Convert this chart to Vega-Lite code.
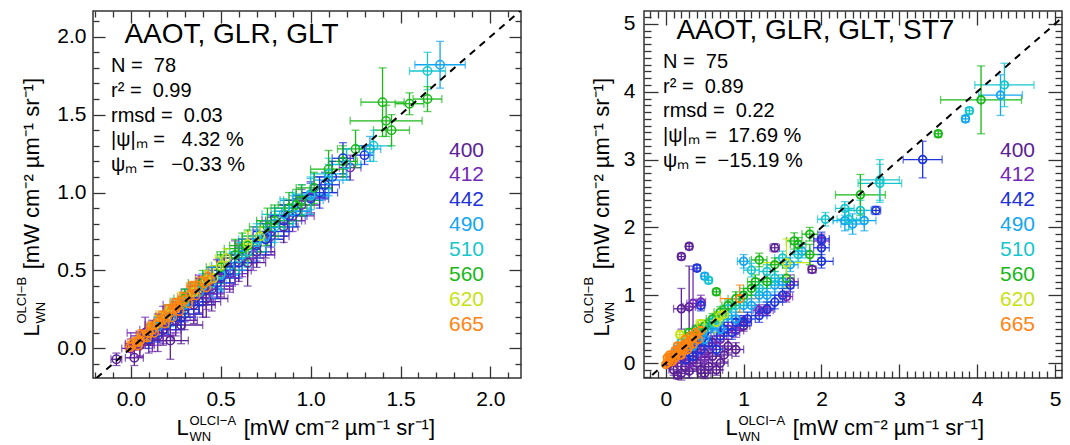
{
  "$schema": "https://vega.github.io/schema/vega-lite/v6.json",
  "padding": {"left": 14, "top": 5, "right": 5, "bottom": 5},
  "config": {"view": {"stroke": "#333", "strokeWidth": 1.5}, "font": "Liberation Sans"},
  "spacing": 123,
  "bounds": "flush",
  "resolve": {"legend": {"color": "independent"}},
  "datasets": {
    "L": [
      {"b":"400","x":-0.08,"y":-0.07,"ex":0.03,"ey":0.04},{"b":"400","x":0.02,"y":-0.06,"ex":0.05,"ey":0.05},{"b":"400","x":0.05,"y":0.02,"ex":0.08,"ey":0.07},{"b":"400","x":0.1,"y":0.05,"ex":0.1,"ey":0.08},{"b":"400","x":0.15,"y":0.08,"ex":0.08,"ey":0.1},{"b":"400","x":0.22,"y":0.05,"ex":0.1,"ey":0.12},{"b":"400","x":0.25,"y":0.18,"ex":0.12,"ey":0.1},{"b":"400","x":0.3,"y":0.22,"ex":0.1,"ey":0.1},{"b":"400","x":0.35,"y":0.28,"ex":0.12,"ey":0.12},{"b":"400","x":0.4,"y":0.3,"ex":0.1,"ey":0.1},{"b":"400","x":0.45,"y":0.38,"ex":0.12,"ey":0.14},{"b":"400","x":0.5,"y":0.45,"ex":0.1,"ey":0.12},{"b":"400","x":0.55,"y":0.5,"ex":0.12,"ey":0.1},{"b":"400","x":0.6,"y":0.55,"ex":0.1,"ey":0.12},{"b":"400","x":0.7,"y":0.62,"ex":0.1,"ey":0.1},{"b":"400","x":0.75,"y":0.7,"ex":0.1,"ey":0.12},{"b":"400","x":0.85,"y":0.78,"ex":0.08,"ey":0.1},{"b":"400","x":0.18,"y":0.12,"ex":0.1,"ey":0.1},{"b":"400","x":0.28,"y":0.15,"ex":0.12,"ey":0.12},{"b":"400","x":0.42,"y":0.32,"ex":0.12,"ey":0.12},{"b":"400","x":0.65,"y":0.55,"ex":0.1,"ey":0.15},
      {"b":"412","x":0.0,"y":0.0,"ex":0.05,"ey":0.06},{"b":"412","x":0.05,"y":0.03,"ex":0.08,"ey":0.08},{"b":"412","x":0.08,"y":0.1,"ex":0.1,"ey":0.1},{"b":"412","x":0.12,"y":0.08,"ex":0.12,"ey":0.1},{"b":"412","x":0.18,"y":0.15,"ex":0.1,"ey":0.12},{"b":"412","x":0.25,"y":0.2,"ex":0.1,"ey":0.1},{"b":"412","x":0.3,"y":0.28,"ex":0.12,"ey":0.1},{"b":"412","x":0.38,"y":0.35,"ex":0.1,"ey":0.12},{"b":"412","x":0.42,"y":0.35,"ex":0.1,"ey":0.1},{"b":"412","x":0.48,"y":0.45,"ex":0.12,"ey":0.12},{"b":"412","x":0.52,"y":0.48,"ex":0.1,"ey":0.1},{"b":"412","x":0.58,"y":0.55,"ex":0.1,"ey":0.14},{"b":"412","x":0.62,"y":0.58,"ex":0.12,"ey":0.12},{"b":"412","x":0.7,"y":0.68,"ex":0.1,"ey":0.1},{"b":"412","x":0.78,"y":0.72,"ex":0.1,"ey":0.12},{"b":"412","x":0.85,"y":0.82,"ex":0.12,"ey":0.1},{"b":"412","x":0.95,"y":0.92,"ex":0.1,"ey":0.1},{"b":"412","x":1.0,"y":0.97,"ex":0.08,"ey":0.1},{"b":"412","x":1.22,"y":1.16,"ex":0.06,"ey":0.08},{"b":"412","x":0.15,"y":0.12,"ex":0.1,"ey":0.1},{"b":"412","x":0.35,"y":0.3,"ex":0.12,"ey":0.12},{"b":"412","x":0.45,"y":0.4,"ex":0.12,"ey":0.1},{"b":"412","x":0.55,"y":0.48,"ex":0.1,"ey":0.12},{"b":"412","x":0.68,"y":0.6,"ex":0.12,"ey":0.1},{"b":"412","x":0.9,"y":0.85,"ex":0.12,"ey":0.1},
      {"b":"442","x":0.1,"y":0.06,"ex":0.06,"ey":0.06},{"b":"442","x":0.15,"y":0.1,"ex":0.06,"ey":0.06},{"b":"442","x":0.2,"y":0.15,"ex":0.08,"ey":0.06},{"b":"442","x":0.25,"y":0.2,"ex":0.08,"ey":0.08},{"b":"442","x":0.3,"y":0.25,"ex":0.08,"ey":0.08},{"b":"442","x":0.35,"y":0.3,"ex":0.08,"ey":0.08},{"b":"442","x":0.42,"y":0.38,"ex":0.08,"ey":0.1},{"b":"442","x":0.5,"y":0.46,"ex":0.08,"ey":0.1},{"b":"442","x":0.55,"y":0.5,"ex":0.1,"ey":0.08},{"b":"442","x":0.62,"y":0.6,"ex":0.1,"ey":0.1},{"b":"442","x":0.7,"y":0.66,"ex":0.08,"ey":0.1},{"b":"442","x":0.78,"y":0.75,"ex":0.1,"ey":0.1},{"b":"442","x":0.85,"y":0.82,"ex":0.1,"ey":0.1},{"b":"442","x":0.92,"y":0.88,"ex":0.08,"ey":0.1},{"b":"442","x":1.0,"y":0.96,"ex":0.1,"ey":0.1},{"b":"442","x":1.08,"y":1.05,"ex":0.08,"ey":0.08},{"b":"442","x":1.18,"y":1.22,"ex":0.06,"ey":0.1},{"b":"442","x":1.3,"y":1.24,"ex":0.05,"ey":0.06},{"b":"442","x":0.28,"y":0.2,"ex":0.08,"ey":0.08},{"b":"442","x":0.38,"y":0.3,"ex":0.08,"ey":0.08},{"b":"442","x":0.48,"y":0.42,"ex":0.1,"ey":0.1},{"b":"442","x":0.6,"y":0.55,"ex":0.1,"ey":0.1},{"b":"442","x":0.75,"y":0.7,"ex":0.1,"ey":0.1},{"b":"442","x":0.88,"y":0.85,"ex":0.1,"ey":0.1},{"b":"442","x":1.05,"y":1.0,"ex":0.1,"ey":0.1},{"b":"442","x":1.12,"y":1.1,"ex":0.1,"ey":0.1},
      {"b":"490","x":0.15,"y":0.14,"ex":0.06,"ey":0.06},{"b":"490","x":0.22,"y":0.2,"ex":0.06,"ey":0.06},{"b":"490","x":0.3,"y":0.28,"ex":0.08,"ey":0.08},{"b":"490","x":0.38,"y":0.36,"ex":0.08,"ey":0.08},{"b":"490","x":0.45,"y":0.42,"ex":0.08,"ey":0.1},{"b":"490","x":0.55,"y":0.53,"ex":0.1,"ey":0.08},{"b":"490","x":0.62,"y":0.6,"ex":0.1,"ey":0.1},{"b":"490","x":0.7,"y":0.68,"ex":0.1,"ey":0.1},{"b":"490","x":0.8,"y":0.8,"ex":0.1,"ey":0.1},{"b":"490","x":0.9,"y":0.88,"ex":0.1,"ey":0.1},{"b":"490","x":1.0,"y":0.99,"ex":0.1,"ey":0.1},{"b":"490","x":1.1,"y":1.08,"ex":0.08,"ey":0.1},{"b":"490","x":1.2,"y":1.18,"ex":0.08,"ey":0.1},{"b":"490","x":1.33,"y":1.28,"ex":0.06,"ey":0.08},{"b":"490","x":1.72,"y":1.82,"ex":0.14,"ey":0.15},{"b":"490","x":0.5,"y":0.47,"ex":0.1,"ey":0.1},{"b":"490","x":0.75,"y":0.72,"ex":0.1,"ey":0.1},{"b":"490","x":0.95,"y":0.95,"ex":0.12,"ey":0.1},
      {"b":"510","x":0.2,"y":0.2,"ex":0.06,"ey":0.06},{"b":"510","x":0.3,"y":0.3,"ex":0.08,"ey":0.08},{"b":"510","x":0.4,"y":0.4,"ex":0.08,"ey":0.08},{"b":"510","x":0.5,"y":0.48,"ex":0.1,"ey":0.1},{"b":"510","x":0.6,"y":0.58,"ex":0.1,"ey":0.1},{"b":"510","x":0.7,"y":0.7,"ex":0.1,"ey":0.1},{"b":"510","x":0.8,"y":0.78,"ex":0.1,"ey":0.1},{"b":"510","x":0.9,"y":0.9,"ex":0.1,"ey":0.1},{"b":"510","x":1.0,"y":0.98,"ex":0.1,"ey":0.12},{"b":"510","x":1.1,"y":1.12,"ex":0.1,"ey":0.1},{"b":"510","x":1.2,"y":1.18,"ex":0.08,"ey":0.1},{"b":"510","x":1.35,"y":1.3,"ex":0.1,"ey":0.1},{"b":"510","x":1.65,"y":1.78,"ex":0.1,"ey":0.12},{"b":"510","x":0.65,"y":0.62,"ex":0.1,"ey":0.1},{"b":"510","x":0.85,"y":0.86,"ex":0.12,"ey":0.1},
      {"b":"560","x":0.3,"y":0.32,"ex":0.06,"ey":0.06},{"b":"560","x":0.4,"y":0.42,"ex":0.08,"ey":0.08},{"b":"560","x":0.5,"y":0.52,"ex":0.08,"ey":0.1},{"b":"560","x":0.58,"y":0.6,"ex":0.1,"ey":0.1},{"b":"560","x":0.65,"y":0.66,"ex":0.1,"ey":0.1},{"b":"560","x":0.72,"y":0.72,"ex":0.1,"ey":0.1},{"b":"560","x":0.8,"y":0.82,"ex":0.1,"ey":0.1},{"b":"560","x":0.88,"y":0.9,"ex":0.1,"ey":0.1},{"b":"560","x":0.95,"y":0.95,"ex":0.1,"ey":0.1},{"b":"560","x":1.02,"y":1.03,"ex":0.1,"ey":0.1},{"b":"560","x":1.1,"y":1.15,"ex":0.1,"ey":0.12},{"b":"560","x":1.18,"y":1.2,"ex":0.08,"ey":0.1},{"b":"560","x":1.25,"y":1.28,"ex":0.1,"ey":0.12},{"b":"560","x":1.4,"y":1.58,"ex":0.12,"ey":0.22},{"b":"560","x":1.55,"y":1.57,"ex":0.08,"ey":0.07},{"b":"560","x":1.65,"y":1.6,"ex":0.08,"ey":0.08},{"b":"560","x":1.42,"y":1.46,"ex":0.2,"ey":0.1},{"b":"560","x":1.45,"y":1.4,"ex":0.1,"ey":0.1},{"b":"560","x":0.62,"y":0.64,"ex":0.1,"ey":0.1},{"b":"560","x":0.76,"y":0.78,"ex":0.1,"ey":0.12},{"b":"560","x":0.92,"y":0.92,"ex":0.1,"ey":0.1},
      {"b":"620","x":0.05,"y":0.05,"ex":0.04,"ey":0.04},{"b":"620","x":0.1,"y":0.1,"ex":0.05,"ey":0.05},{"b":"620","x":0.15,"y":0.16,"ex":0.05,"ey":0.05},{"b":"620","x":0.2,"y":0.22,"ex":0.06,"ey":0.06},{"b":"620","x":0.28,"y":0.3,"ex":0.06,"ey":0.06},{"b":"620","x":0.35,"y":0.36,"ex":0.06,"ey":0.06},{"b":"620","x":0.42,"y":0.44,"ex":0.06,"ey":0.06},{"b":"620","x":0.46,"y":0.45,"ex":0.05,"ey":0.06},{"b":"620","x":0.5,"y":0.53,"ex":0.06,"ey":0.06},{"b":"620","x":0.53,"y":0.58,"ex":0.06,"ey":0.06},{"b":"620","x":0.65,"y":0.67,"ex":0.06,"ey":0.08},{"b":"620","x":0.72,"y":0.72,"ex":0.05,"ey":0.06},
      {"b":"665","x":0.0,"y":0.01,"ex":0.03,"ey":0.03},{"b":"665","x":0.03,"y":0.04,"ex":0.03,"ey":0.03},{"b":"665","x":0.05,"y":0.05,"ex":0.03,"ey":0.03},{"b":"665","x":0.07,"y":0.08,"ex":0.03,"ey":0.03},{"b":"665","x":0.1,"y":0.1,"ex":0.03,"ey":0.03},{"b":"665","x":0.12,"y":0.12,"ex":0.03,"ey":0.03},{"b":"665","x":0.14,"y":0.15,"ex":0.03,"ey":0.03},{"b":"665","x":0.16,"y":0.17,"ex":0.03,"ey":0.03},{"b":"665","x":0.18,"y":0.19,"ex":0.03,"ey":0.03},{"b":"665","x":0.2,"y":0.2,"ex":0.03,"ey":0.03},{"b":"665","x":0.22,"y":0.23,"ex":0.03,"ey":0.03},{"b":"665","x":0.24,"y":0.25,"ex":0.03,"ey":0.03},{"b":"665","x":0.26,"y":0.27,"ex":0.03,"ey":0.03},{"b":"665","x":0.28,"y":0.3,"ex":0.03,"ey":0.03},{"b":"665","x":0.3,"y":0.31,"ex":0.03,"ey":0.03},{"b":"665","x":0.33,"y":0.34,"ex":0.03,"ey":0.03},{"b":"665","x":0.35,"y":0.38,"ex":0.03,"ey":0.03},{"b":"665","x":0.38,"y":0.4,"ex":0.03,"ey":0.03},{"b":"665","x":0.41,"y":0.42,"ex":0.03,"ey":0.03},{"b":"665","x":0.44,"y":0.44,"ex":0.03,"ey":0.03},{"b":"665","x":0.01,"y":0.03,"ex":0.03,"ey":0.03},{"b":"665","x":0.04,"y":0.02,"ex":0.03,"ey":0.03},{"b":"665","x":0.06,"y":0.09,"ex":0.03,"ey":0.03},{"b":"665","x":0.09,"y":0.07,"ex":0.03,"ey":0.03},{"b":"665","x":0.11,"y":0.14,"ex":0.03,"ey":0.03},{"b":"665","x":0.13,"y":0.1,"ex":0.03,"ey":0.03},{"b":"665","x":0.17,"y":0.21,"ex":0.03,"ey":0.03},{"b":"665","x":0.19,"y":0.16,"ex":0.03,"ey":0.03},{"b":"665","x":0.21,"y":0.25,"ex":0.03,"ey":0.03},{"b":"665","x":0.23,"y":0.2,"ex":0.03,"ey":0.03},{"b":"665","x":0.25,"y":0.29,"ex":0.03,"ey":0.03},{"b":"665","x":0.27,"y":0.24,"ex":0.03,"ey":0.03},{"b":"665","x":0.29,"y":0.33,"ex":0.03,"ey":0.03},{"b":"665","x":0.32,"y":0.29,"ex":0.03,"ey":0.03},{"b":"665","x":0.34,"y":0.4,"ex":0.03,"ey":0.03},{"b":"665","x":0.36,"y":0.34,"ex":0.03,"ey":0.03},{"b":"665","x":0.39,"y":0.43,"ex":0.03,"ey":0.03},{"b":"665","x":0.42,"y":0.39,"ex":0.03,"ey":0.03},{"b":"665","x":0.43,"y":0.46,"ex":0.03,"ey":0.03}
    ],
    "R": [
      {"b":"400","x":0.05,"y":0.0,"ex":0.05,"ey":0.08},{"b":"400","x":0.1,"y":-0.1,"ex":0.06,"ey":0.08},{"b":"400","x":0.15,"y":0.05,"ex":0.08,"ey":0.1},{"b":"400","x":0.2,"y":-0.15,"ex":0.1,"ey":0.1},{"b":"400","x":0.25,"y":0.1,"ex":0.1,"ey":0.1},{"b":"400","x":0.3,"y":-0.12,"ex":0.1,"ey":0.1},{"b":"400","x":0.35,"y":0.05,"ex":0.1,"ey":0.1},{"b":"400","x":0.45,"y":-0.1,"ex":0.1,"ey":0.1},{"b":"400","x":0.5,"y":0.15,"ex":0.1,"ey":0.1},{"b":"400","x":0.55,"y":-0.05,"ex":0.1,"ey":0.1},{"b":"400","x":0.6,"y":0.1,"ex":0.1,"ey":0.1},{"b":"400","x":0.7,"y":0.0,"ex":0.1,"ey":0.1},{"b":"400","x":0.2,"y":1.57,"ex":0.04,"ey":0.04},{"b":"400","x":0.3,"y":1.72,"ex":0.04,"ey":0.04},{"b":"400","x":0.2,"y":0.8,"ex":0.1,"ey":0.3},{"b":"400","x":0.3,"y":0.83,"ex":0.08,"ey":0.6},{"b":"400","x":1.4,"y":1.7,"ex":0.06,"ey":0.06},{"b":"400","x":1.88,"y":1.38,"ex":0.05,"ey":0.05},{"b":"400","x":1.0,"y":0.55,"ex":0.08,"ey":0.08},{"b":"400","x":0.8,"y":0.25,"ex":0.1,"ey":0.1},{"b":"400","x":0.15,"y":-0.18,"ex":0.05,"ey":0.05},{"b":"400","x":0.25,"y":-0.05,"ex":0.06,"ey":0.06},{"b":"400","x":0.4,"y":0.0,"ex":0.08,"ey":0.08},{"b":"400","x":0.5,"y":-0.15,"ex":0.08,"ey":0.08},{"b":"400","x":0.65,"y":-0.1,"ex":0.08,"ey":0.08},{"b":"400","x":0.75,"y":0.12,"ex":0.1,"ey":0.1},{"b":"400","x":0.4,"y":0.25,"ex":0.08,"ey":0.08},{"b":"400","x":0.6,"y":0.3,"ex":0.1,"ey":0.1},{"b":"400","x":0.9,"y":0.2,"ex":0.1,"ey":0.1},
      {"b":"412","x":0.1,"y":0.02,"ex":0.05,"ey":0.06},{"b":"412","x":0.2,"y":0.1,"ex":0.06,"ey":0.08},{"b":"412","x":0.3,"y":0.0,"ex":0.08,"ey":0.1},{"b":"412","x":0.4,"y":0.2,"ex":0.1,"ey":0.1},{"b":"412","x":0.5,"y":0.08,"ex":0.08,"ey":0.1},{"b":"412","x":0.6,"y":0.25,"ex":0.1,"ey":0.1},{"b":"412","x":0.7,"y":0.35,"ex":0.1,"ey":0.1},{"b":"412","x":0.8,"y":0.5,"ex":0.1,"ey":0.1},{"b":"412","x":0.9,"y":0.48,"ex":0.1,"ey":0.1},{"b":"412","x":1.0,"y":0.62,"ex":0.1,"ey":0.08},{"b":"412","x":1.2,"y":0.78,"ex":0.08,"ey":0.08},{"b":"412","x":1.3,"y":0.78,"ex":0.08,"ey":0.08},{"b":"412","x":1.55,"y":0.98,"ex":0.08,"ey":0.08},{"b":"412","x":2.0,"y":1.8,"ex":0.1,"ey":0.1},{"b":"412","x":0.35,"y":0.88,"ex":0.08,"ey":0.5},{"b":"412","x":0.45,"y":0.9,"ex":0.06,"ey":0.1},{"b":"412","x":1.6,"y":1.2,"ex":0.1,"ey":0.1},
      {"b":"442","x":0.4,"y":1.4,"ex":0.04,"ey":0.04},{"b":"442","x":0.1,"y":0.1,"ex":0.05,"ey":0.06},{"b":"442","x":0.2,"y":0.2,"ex":0.06,"ey":0.06},{"b":"442","x":0.3,"y":0.15,"ex":0.08,"ey":0.08},{"b":"442","x":0.4,"y":0.3,"ex":0.08,"ey":0.08},{"b":"442","x":0.5,"y":0.45,"ex":0.08,"ey":0.08},{"b":"442","x":0.6,"y":0.55,"ex":0.1,"ey":0.1},{"b":"442","x":0.65,"y":0.2,"ex":0.08,"ey":0.08},{"b":"442","x":0.75,"y":0.5,"ex":0.1,"ey":0.1},{"b":"442","x":0.9,"y":0.6,"ex":0.1,"ey":0.1},{"b":"442","x":1.05,"y":0.65,"ex":0.1,"ey":0.1},{"b":"442","x":1.3,"y":0.8,"ex":0.1,"ey":0.1},{"b":"442","x":1.5,"y":1.0,"ex":0.1,"ey":0.1},{"b":"442","x":1.6,"y":1.15,"ex":0.1,"ey":0.1},{"b":"442","x":2.0,"y":1.5,"ex":0.15,"ey":0.1},{"b":"442","x":2.0,"y":1.7,"ex":0.1,"ey":0.15},{"b":"442","x":2.0,"y":1.83,"ex":0.1,"ey":0.1},{"b":"442","x":2.7,"y":2.25,"ex":0.06,"ey":0.06},{"b":"442","x":3.3,"y":3.0,"ex":0.25,"ey":0.27},{"b":"442","x":0.45,"y":0.85,"ex":0.05,"ey":0.08},{"b":"442","x":0.25,"y":0.05,"ex":0.06,"ey":0.06},{"b":"442","x":0.35,"y":0.1,"ex":0.06,"ey":0.06},{"b":"442","x":0.45,"y":0.2,"ex":0.08,"ey":0.08},{"b":"442","x":0.55,"y":0.3,"ex":0.08,"ey":0.08},{"b":"442","x":0.7,"y":0.4,"ex":0.08,"ey":0.08},{"b":"442","x":0.85,"y":0.45,"ex":0.1,"ey":0.1},{"b":"442","x":1.0,"y":0.6,"ex":0.1,"ey":0.1},{"b":"442","x":1.2,"y":0.7,"ex":0.1,"ey":0.1},{"b":"442","x":1.4,"y":0.9,"ex":0.1,"ey":0.1},
      {"b":"490","x":0.5,"y":1.28,"ex":0.04,"ey":0.04},{"b":"490","x":0.15,"y":0.2,"ex":0.05,"ey":0.06},{"b":"490","x":0.3,"y":0.3,"ex":0.06,"ey":0.06},{"b":"490","x":0.45,"y":0.4,"ex":0.08,"ey":0.08},{"b":"490","x":0.6,"y":0.55,"ex":0.08,"ey":0.1},{"b":"490","x":0.8,"y":0.7,"ex":0.1,"ey":0.1},{"b":"490","x":1.0,"y":0.85,"ex":0.1,"ey":0.1},{"b":"490","x":1.2,"y":1.0,"ex":0.1,"ey":0.1},{"b":"490","x":1.4,"y":1.15,"ex":0.1,"ey":0.1},{"b":"490","x":1.6,"y":1.45,"ex":0.1,"ey":0.1},{"b":"490","x":1.75,"y":1.65,"ex":0.1,"ey":0.1},{"b":"490","x":2.3,"y":2.1,"ex":0.15,"ey":0.15},{"b":"490","x":2.4,"y":2.05,"ex":0.15,"ey":0.15},{"b":"490","x":2.55,"y":2.1,"ex":0.15,"ey":0.15},{"b":"490","x":3.85,"y":3.6,"ex":0.04,"ey":0.04},{"b":"490","x":4.3,"y":3.95,"ex":0.28,"ey":0.3},{"b":"490","x":1.0,"y":1.5,"ex":0.08,"ey":0.1},{"b":"490","x":0.35,"y":0.25,"ex":0.06,"ey":0.06},{"b":"490","x":0.5,"y":0.35,"ex":0.08,"ey":0.08},{"b":"490","x":0.7,"y":0.5,"ex":0.08,"ey":0.08},{"b":"490","x":0.9,"y":0.65,"ex":0.1,"ey":0.1},{"b":"490","x":1.1,"y":0.85,"ex":0.1,"ey":0.1},{"b":"490","x":1.3,"y":1.0,"ex":0.1,"ey":0.1},{"b":"490","x":1.5,"y":1.2,"ex":0.1,"ey":0.1},
      {"b":"510","x":0.55,"y":1.22,"ex":0.04,"ey":0.04},{"b":"510","x":0.2,"y":0.3,"ex":0.05,"ey":0.06},{"b":"510","x":0.4,"y":0.45,"ex":0.06,"ey":0.08},{"b":"510","x":0.6,"y":0.6,"ex":0.08,"ey":0.08},{"b":"510","x":0.8,"y":0.8,"ex":0.1,"ey":0.1},{"b":"510","x":1.0,"y":0.95,"ex":0.1,"ey":0.1},{"b":"510","x":1.1,"y":1.37,"ex":0.1,"ey":0.1},{"b":"510","x":1.3,"y":1.35,"ex":0.1,"ey":0.1},{"b":"510","x":1.5,"y":1.55,"ex":0.1,"ey":0.1},{"b":"510","x":2.05,"y":2.12,"ex":0.1,"ey":0.1},{"b":"510","x":2.3,"y":2.28,"ex":0.12,"ey":0.1},{"b":"510","x":2.35,"y":2.12,"ex":0.15,"ey":0.15},{"b":"510","x":2.5,"y":2.25,"ex":0.15,"ey":0.15},{"b":"510","x":2.75,"y":2.65,"ex":0.28,"ey":0.28},{"b":"510","x":2.75,"y":2.7,"ex":0.25,"ey":0.3},{"b":"510","x":3.9,"y":3.72,"ex":0.04,"ey":0.04},{"b":"510","x":4.35,"y":4.1,"ex":0.38,"ey":0.32},{"b":"510","x":1.7,"y":1.6,"ex":0.1,"ey":0.1},{"b":"510","x":0.3,"y":0.35,"ex":0.06,"ey":0.06},{"b":"510","x":0.5,"y":0.5,"ex":0.08,"ey":0.08},{"b":"510","x":0.7,"y":0.65,"ex":0.08,"ey":0.08},{"b":"510","x":0.9,"y":0.85,"ex":0.1,"ey":0.1},{"b":"510","x":1.2,"y":1.1,"ex":0.1,"ey":0.1},{"b":"510","x":1.4,"y":1.25,"ex":0.1,"ey":0.1},
      {"b":"560","x":0.65,"y":1.05,"ex":0.04,"ey":0.04},{"b":"560","x":0.3,"y":0.45,"ex":0.06,"ey":0.06},{"b":"560","x":0.5,"y":0.55,"ex":0.08,"ey":0.08},{"b":"560","x":0.7,"y":0.75,"ex":0.08,"ey":0.08},{"b":"560","x":0.9,"y":0.95,"ex":0.1,"ey":0.1},{"b":"560","x":1.0,"y":1.0,"ex":0.1,"ey":0.1},{"b":"560","x":1.2,"y":1.52,"ex":0.1,"ey":0.1},{"b":"560","x":1.3,"y":1.2,"ex":0.1,"ey":0.1},{"b":"560","x":1.55,"y":1.25,"ex":0.1,"ey":0.15},{"b":"560","x":1.65,"y":1.8,"ex":0.1,"ey":0.12},{"b":"560","x":1.7,"y":1.75,"ex":0.1,"ey":0.1},{"b":"560","x":1.85,"y":1.9,"ex":0.1,"ey":0.1},{"b":"560","x":1.85,"y":1.6,"ex":0.15,"ey":0.15},{"b":"560","x":2.5,"y":2.48,"ex":0.32,"ey":0.3},{"b":"560","x":3.5,"y":3.38,"ex":0.04,"ey":0.04},{"b":"560","x":4.05,"y":3.88,"ex":0.52,"ey":0.5},{"b":"560","x":1.1,"y":1.1,"ex":0.1,"ey":0.1},{"b":"560","x":0.4,"y":0.5,"ex":0.06,"ey":0.06},{"b":"560","x":0.6,"y":0.65,"ex":0.08,"ey":0.08},{"b":"560","x":0.8,"y":0.85,"ex":0.08,"ey":0.08},{"b":"560","x":1.15,"y":1.2,"ex":0.1,"ey":0.1},{"b":"560","x":1.4,"y":1.45,"ex":0.1,"ey":0.1},
      {"b":"620","x":0.18,"y":0.42,"ex":0.04,"ey":0.04},{"b":"620","x":0.3,"y":0.35,"ex":0.05,"ey":0.05},{"b":"620","x":0.45,"y":0.58,"ex":0.06,"ey":0.06},{"b":"620","x":0.65,"y":0.6,"ex":0.08,"ey":0.15},{"b":"620","x":0.7,"y":0.7,"ex":0.06,"ey":0.06},{"b":"620","x":0.75,"y":0.72,"ex":0.06,"ey":0.06},{"b":"620","x":1.55,"y":1.48,"ex":0.3,"ey":0.35},
      {"b":"665","x":0.02,"y":0.0,"ex":0.03,"ey":0.03},{"b":"665","x":0.05,"y":0.05,"ex":0.03,"ey":0.03},{"b":"665","x":0.08,"y":0.1,"ex":0.03,"ey":0.03},{"b":"665","x":0.1,"y":0.12,"ex":0.04,"ey":0.04},{"b":"665","x":0.12,"y":0.18,"ex":0.04,"ey":0.04},{"b":"665","x":0.15,"y":0.15,"ex":0.04,"ey":0.04},{"b":"665","x":0.18,"y":0.22,"ex":0.04,"ey":0.04},{"b":"665","x":0.2,"y":0.2,"ex":0.04,"ey":0.04},{"b":"665","x":0.22,"y":0.26,"ex":0.04,"ey":0.04},{"b":"665","x":0.25,"y":0.28,"ex":0.04,"ey":0.04},{"b":"665","x":0.28,"y":0.3,"ex":0.04,"ey":0.04},{"b":"665","x":0.3,"y":0.32,"ex":0.04,"ey":0.04},{"b":"665","x":0.33,"y":0.35,"ex":0.04,"ey":0.04},{"b":"665","x":0.36,"y":0.38,"ex":0.04,"ey":0.04},{"b":"665","x":0.4,"y":0.42,"ex":0.04,"ey":0.04},{"b":"665","x":0.1,"y":0.05,"ex":0.03,"ey":0.03},{"b":"665","x":0.2,"y":0.12,"ex":0.04,"ey":0.04},{"b":"665","x":0.3,"y":0.25,"ex":0.04,"ey":0.04},{"b":"665","x":0.95,"y":0.95,"ex":0.25,"ey":0.2},{"b":"665","x":0.05,"y":0.12,"ex":0.03,"ey":0.03},{"b":"665","x":0.08,"y":0.02,"ex":0.03,"ey":0.03},{"b":"665","x":0.12,"y":0.08,"ex":0.03,"ey":0.03},{"b":"665","x":0.15,"y":0.25,"ex":0.04,"ey":0.04},{"b":"665","x":0.18,"y":0.12,"ex":0.04,"ey":0.04},{"b":"665","x":0.22,"y":0.18,"ex":0.04,"ey":0.04},{"b":"665","x":0.25,"y":0.35,"ex":0.04,"ey":0.04},{"b":"665","x":0.28,"y":0.2,"ex":0.04,"ey":0.04},{"b":"665","x":0.32,"y":0.4,"ex":0.04,"ey":0.04},{"b":"665","x":0.35,"y":0.28,"ex":0.04,"ey":0.04},{"b":"665","x":0.38,"y":0.45,"ex":0.04,"ey":0.04},{"b":"665","x":0.42,"y":0.35,"ex":0.04,"ey":0.04},{"b":"665","x":0.45,"y":0.48,"ex":0.04,"ey":0.04},{"b":"665","x":0.02,"y":0.08,"ex":0.03,"ey":0.03},{"b":"665","x":0.0,"y":-0.02,"ex":0.03,"ey":0.03}
    ]
  },
  "hconcat": [
    {
      "width": 428, "height": 367,
      "data": {"name": "L"},
      "title": {"text": "\u200b\u00a0\u2009AAOT, GLR, GLT", "subtitle": ["N =\u00a0\u00a078", "r² =\u00a0\u00a00.99", "rmsd =\u00a0\u00a00.03", "|ψ|ₘ =\u00a0\u00a0\u00a04.32 %", "ψₘ =\u00a0\u00a0\u00a0−0.33 %"], "anchor": "start", "frame": "group", "orient": "top", "offset": -165, "dx": 18, "font": "Liberation Sans", "fontSize": 28, "fontWeight": "normal", "color": "black", "subtitleFont": "Liberation Sans", "subtitleFontSize": 20, "subtitleColor": "black", "subtitleLineHeight": 24.8, "subtitlePadding": 7},
      "resolve": {"axis": {"x": "independent", "y": "independent"}},
      "layer": [
        {
          "mark": {"type": "errorbar", "ticks": {"size": 8}, "thickness": 1.3},
          "encoding": {
            "x": {"field": "x", "type": "quantitative", "scale": {"domain": [-0.21, 2.17], "nice": false, "zero": false}, "axis": {"orient": "bottom", "ticks": false, "labels": false, "domain": false, "grid": false, "title": "OLCI−A", "titleFont": "Liberation Sans", "titleFontSize": 13, "titleFontWeight": "normal", "titleColor": "black", "titleAlign": "left", "titleBaseline": "alphabetic", "titleX": 96, "titleY": 46}},
            "xError": {"field": "ex"},
            "y": {"field": "y", "type": "quantitative", "scale": {"domain": [-0.19, 2.165], "nice": false, "zero": false}, "axis": {"orient": "left", "ticks": false, "labels": false, "domain": false, "grid": false, "title": "OLCI−B", "titleFont": "Liberation Sans", "titleFontSize": 13, "titleFontWeight": "normal", "titleColor": "black", "titleAngle": -90, "titleAlign": "left", "titleBaseline": "alphabetic", "titleX": -68, "titleY": 312}},
            "color": {"field": "b", "type": "nominal", "scale": {"domain": ["400","412","442","490","510","560","620","665"], "range": ["#5b2196","#7428b8","#1c34d9","#13a6f2","#16c6cc","#18b818","#c6e212","#ff8410"]}, "legend": {"orient": "none", "legendX": 335, "legendY": 129, "title": null, "labelFontSize": 21, "labelFont": "Liberation Sans", "symbolOpacity": 0, "symbolSize": 0, "symbolStrokeWidth": 0, "rowPadding": 2.9, "labelOffset": 0, "padding": 0, "encode": {"labels": {"update": {"fill": {"scale": "color", "field": "value"}}}}}}
          }
        },
        {
          "mark": {"type": "errorbar", "ticks": {"size": 8}, "thickness": 1.3},
          "encoding": {
            "y": {"field": "y", "type": "quantitative", "scale": {"domain": [-0.19, 2.165], "nice": false, "zero": false}, "axis": {"orient": "left", "ticks": false, "labels": false, "domain": false, "grid": false, "title": "WN", "titleFont": "Liberation Sans", "titleFontSize": 13, "titleFontWeight": "normal", "titleColor": "black", "titleAngle": -90, "titleAlign": "left", "titleBaseline": "alphabetic", "titleX": -49, "titleY": 312}},
            "yError": {"field": "ey"},
            "x": {"field": "x", "type": "quantitative", "scale": {"domain": [-0.21, 2.17], "nice": false, "zero": false}, "axis": {"orient": "bottom", "ticks": false, "labels": false, "domain": false, "grid": false, "title": "WN", "titleFont": "Liberation Sans", "titleFontSize": 13, "titleFontWeight": "normal", "titleColor": "black", "titleAlign": "left", "titleBaseline": "alphabetic", "titleX": 96, "titleY": 62}},
            "color": {"field": "b", "type": "nominal"}
          }
        },
        {
          "mark": {"type": "point", "shape": "circle", "filled": false, "size": 70, "strokeWidth": 1.5, "opacity": 1},
          "encoding": {
            "x": {"field": "x", "type": "quantitative", "scale": {"domain": [-0.21, 2.17], "nice": false, "zero": false}, "axis": {"orient": "top", "values": [-0.2,-0.1,0,0.1,0.2,0.3,0.4,0.5,0.6,0.7,0.8,0.9,1,1.1,1.2,1.3,1.4,1.5,1.6,1.7,1.8,1.9,2,2.1], "tickSize": {"condition": {"test": "abs(datum.value*2-round(datum.value*2))<0.001", "value": -12}, "value": -6}, "tickColor": "#333", "tickWidth": 1.3, "labels": false, "domain": false, "grid": false, "title": null}},
            "y": {"field": "y", "type": "quantitative", "scale": {"domain": [-0.19, 2.165], "nice": false, "zero": false}, "axis": {"orient": "right", "values": [-0.1,0,0.1,0.2,0.3,0.4,0.5,0.6,0.7,0.8,0.9,1,1.1,1.2,1.3,1.4,1.5,1.6,1.7,1.8,1.9,2,2.1], "tickSize": {"condition": {"test": "abs(datum.value*2-round(datum.value*2))<0.001", "value": -12}, "value": -6}, "tickColor": "#333", "tickWidth": 1.3, "labels": false, "domain": false, "grid": false, "title": null}},
            "color": {"field": "b", "type": "nominal"}
          }
        },
        {
          "data": {"values": [{"v": -0.3}, {"v": 2.3}]},
          "mark": {"type": "line", "color": "black", "strokeDash": [7, 6], "strokeWidth": 2, "clip": true},
          "encoding": {
            "x": {"field": "v", "type": "quantitative", "scale": {"domain": [-0.21, 2.17], "nice": false, "zero": false}, "axis": {"orient": "bottom", "values": [-0.2,-0.1,0,0.1,0.2,0.3,0.4,0.5,0.6,0.7,0.8,0.9,1,1.1,1.2,1.3,1.4,1.5,1.6,1.7,1.8,1.9,2,2.1], "tickSize": {"condition": {"test": "abs(datum.value*2-round(datum.value*2))<0.001", "value": -12}, "value": -6}, "tickColor": "#333", "tickWidth": 1.3, "labelExpr": "abs(datum.value*2-round(datum.value*2))<0.001 ? format(datum.value,'.1f') : ''", "labelFont": "Liberation Sans", "labelFontSize": 21, "labelColor": "black", "labelPadding": 22, "labelOverlap": false, "labelFlush": false, "domain": false, "grid": false, "title": "L\u00a0\u00a0\u00a0\u00a0\u00a0\u00a0\u00a0\u00a0\u00a0[mW cm⁻² µm⁻¹ sr⁻¹]", "titleFont": "Liberation Sans", "titleFontSize": 22, "titleFontWeight": "normal", "titleColor": "black", "titleAlign": "left", "titleBaseline": "alphabetic", "titleX": 83, "titleY": 56}},
            "y": {"field": "v", "type": "quantitative", "scale": {"domain": [-0.19, 2.165], "nice": false, "zero": false}, "axis": {"orient": "left", "values": [-0.1,0,0.1,0.2,0.3,0.4,0.5,0.6,0.7,0.8,0.9,1,1.1,1.2,1.3,1.4,1.5,1.6,1.7,1.8,1.9,2,2.1], "tickSize": {"condition": {"test": "abs(datum.value*2-round(datum.value*2))<0.001", "value": -12}, "value": -6}, "tickColor": "#333", "tickWidth": 1.3, "labelExpr": "abs(datum.value*2-round(datum.value*2))<0.001 ? format(datum.value,'.1f') : ''", "labelFont": "Liberation Sans", "labelFontSize": 21, "labelColor": "black", "labelPadding": 19, "labelOverlap": false, "labelFlush": false, "domain": false, "grid": false, "title": "L\u00a0\u00a0\u00a0\u00a0\u00a0\u00a0\u00a0\u00a0\u00a0[mW cm⁻² µm⁻¹ sr⁻¹]", "titleFont": "Liberation Sans", "titleFontSize": 22, "titleFontWeight": "normal", "titleColor": "black", "titleAngle": -90, "titleAlign": "left", "titleBaseline": "alphabetic", "titleX": -55, "titleY": 325}}
          }
        }
      ]
    },
    {
      "width": 418, "height": 367,
      "data": {"name": "R"},
      "title": {"text": "\u200b\u00a0\u2009AAOT, GLR, GLT, ST7", "subtitle": ["N =\u00a0\u00a075", "r² =\u00a0\u00a00.89", "rmsd =\u00a0\u00a00.22", "|ψ|ₘ =\u00a0\u00a017.69 %", "ψₘ =\u00a0\u00a0−15.19 %"], "anchor": "start", "frame": "group", "orient": "top", "offset": -165, "dx": 19, "font": "Liberation Sans", "fontSize": 28, "fontWeight": "normal", "color": "black", "subtitleFont": "Liberation Sans", "subtitleFontSize": 20, "subtitleColor": "black", "subtitleLineHeight": 24.8, "subtitlePadding": 7},
      "resolve": {"axis": {"x": "independent", "y": "independent"}},
      "layer": [
        {
          "mark": {"type": "errorbar", "ticks": {"size": 8}, "thickness": 1.3},
          "encoding": {
            "x": {"field": "x", "type": "quantitative", "scale": {"domain": [-0.28, 5.09], "nice": false, "zero": false}, "axis": {"orient": "bottom", "ticks": false, "labels": false, "domain": false, "grid": false, "title": "OLCI−A", "titleFont": "Liberation Sans", "titleFontSize": 13, "titleFontWeight": "normal", "titleColor": "black", "titleAlign": "left", "titleBaseline": "alphabetic", "titleX": 94, "titleY": 46}},
            "xError": {"field": "ex"},
            "y": {"field": "y", "type": "quantitative", "scale": {"domain": [-0.22, 5.19], "nice": false, "zero": false}, "axis": {"orient": "left", "ticks": false, "labels": false, "domain": false, "grid": false, "title": "OLCI−B", "titleFont": "Liberation Sans", "titleFontSize": 13, "titleFontWeight": "normal", "titleColor": "black", "titleAngle": -90, "titleAlign": "left", "titleBaseline": "alphabetic", "titleX": -52, "titleY": 312}},
            "color": {"field": "b", "type": "nominal", "scale": {"domain": ["400","412","442","490","510","560","620","665"], "range": ["#5b2196","#7428b8","#1c34d9","#13a6f2","#16c6cc","#18b818","#c6e212","#ff8410"]}, "legend": {"orient": "none", "legendX": 335, "legendY": 129, "title": null, "labelFontSize": 21, "labelFont": "Liberation Sans", "symbolOpacity": 0, "symbolSize": 0, "symbolStrokeWidth": 0, "rowPadding": 2.9, "labelOffset": 0, "padding": 0, "encode": {"labels": {"update": {"fill": {"scale": "color", "field": "value"}}}}}}
          }
        },
        {
          "mark": {"type": "errorbar", "ticks": {"size": 8}, "thickness": 1.3},
          "encoding": {
            "y": {"field": "y", "type": "quantitative", "scale": {"domain": [-0.22, 5.19], "nice": false, "zero": false}, "axis": {"orient": "left", "ticks": false, "labels": false, "domain": false, "grid": false, "title": "WN", "titleFont": "Liberation Sans", "titleFontSize": 13, "titleFontWeight": "normal", "titleColor": "black", "titleAngle": -90, "titleAlign": "left", "titleBaseline": "alphabetic", "titleX": -31, "titleY": 312}},
            "yError": {"field": "ey"},
            "x": {"field": "x", "type": "quantitative", "scale": {"domain": [-0.28, 5.09], "nice": false, "zero": false}, "axis": {"orient": "bottom", "ticks": false, "labels": false, "domain": false, "grid": false, "title": "WN", "titleFont": "Liberation Sans", "titleFontSize": 13, "titleFontWeight": "normal", "titleColor": "black", "titleAlign": "left", "titleBaseline": "alphabetic", "titleX": 94, "titleY": 62}},
            "color": {"field": "b", "type": "nominal"}
          }
        },
        {
          "mark": {"type": "point", "shape": "circle", "filled": false, "size": 60, "strokeWidth": 1.8, "opacity": 1},
          "encoding": {
            "x": {"field": "x", "type": "quantitative", "scale": {"domain": [-0.28, 5.09], "nice": false, "zero": false}, "axis": {"orient": "top", "values": [-0.2,-0.1,0,0.1,0.2,0.3,0.4,0.5,0.6,0.7,0.8,0.9,1,1.1,1.2,1.3,1.4,1.5,1.6,1.7,1.8,1.9,2,2.1,2.2,2.3,2.4,2.5,2.6,2.7,2.8,2.9,3,3.1,3.2,3.3,3.4,3.5,3.6,3.7,3.8,3.9,4,4.1,4.2,4.3,4.4,4.5,4.6,4.7,4.8,4.9,5], "tickSize": {"condition": {"test": "abs(datum.value-round(datum.value))<0.001", "value": -14}, "value": -7}, "tickColor": "#333", "tickWidth": 1.3, "labels": false, "domain": false, "grid": false, "title": null}},
            "y": {"field": "y", "type": "quantitative", "scale": {"domain": [-0.22, 5.19], "nice": false, "zero": false}, "axis": {"orient": "right", "values": [-0.2,-0.1,0,0.1,0.2,0.3,0.4,0.5,0.6,0.7,0.8,0.9,1,1.1,1.2,1.3,1.4,1.5,1.6,1.7,1.8,1.9,2,2.1,2.2,2.3,2.4,2.5,2.6,2.7,2.8,2.9,3,3.1,3.2,3.3,3.4,3.5,3.6,3.7,3.8,3.9,4,4.1,4.2,4.3,4.4,4.5,4.6,4.7,4.8,4.9,5,5.1], "tickSize": {"condition": {"test": "abs(datum.value-round(datum.value))<0.001", "value": -14}, "value": -7}, "tickColor": "#333", "tickWidth": 1.3, "labels": false, "domain": false, "grid": false, "title": null}},
            "color": {"field": "b", "type": "nominal"}
          }
        },
        {
          "data": {"values": [{"v": -0.3}, {"v": 5.3}]},
          "mark": {"type": "line", "color": "black", "strokeDash": [7, 6], "strokeWidth": 2, "clip": true},
          "encoding": {
            "x": {"field": "v", "type": "quantitative", "scale": {"domain": [-0.28, 5.09], "nice": false, "zero": false}, "axis": {"orient": "bottom", "values": [-0.2,-0.1,0,0.1,0.2,0.3,0.4,0.5,0.6,0.7,0.8,0.9,1,1.1,1.2,1.3,1.4,1.5,1.6,1.7,1.8,1.9,2,2.1,2.2,2.3,2.4,2.5,2.6,2.7,2.8,2.9,3,3.1,3.2,3.3,3.4,3.5,3.6,3.7,3.8,3.9,4,4.1,4.2,4.3,4.4,4.5,4.6,4.7,4.8,4.9,5], "tickSize": {"condition": {"test": "abs(datum.value-round(datum.value))<0.001", "value": -14}, "value": -7}, "tickColor": "#333", "tickWidth": 1.3, "labelExpr": "abs(datum.value-round(datum.value))<0.001 ? format(datum.value,'d') : ''", "labelFont": "Liberation Sans", "labelFontSize": 21, "labelColor": "black", "labelPadding": 24, "labelOverlap": false, "labelFlush": false, "domain": false, "grid": false, "title": "L\u00a0\u00a0\u00a0\u00a0\u00a0\u00a0\u00a0\u00a0\u00a0[mW cm⁻² µm⁻¹ sr⁻¹]", "titleFont": "Liberation Sans", "titleFontSize": 22, "titleFontWeight": "normal", "titleColor": "black", "titleAlign": "left", "titleBaseline": "alphabetic", "titleX": 81, "titleY": 56}},
            "y": {"field": "v", "type": "quantitative", "scale": {"domain": [-0.22, 5.19], "nice": false, "zero": false}, "axis": {"orient": "left", "values": [-0.2,-0.1,0,0.1,0.2,0.3,0.4,0.5,0.6,0.7,0.8,0.9,1,1.1,1.2,1.3,1.4,1.5,1.6,1.7,1.8,1.9,2,2.1,2.2,2.3,2.4,2.5,2.6,2.7,2.8,2.9,3,3.1,3.2,3.3,3.4,3.5,3.6,3.7,3.8,3.9,4,4.1,4.2,4.3,4.4,4.5,4.6,4.7,4.8,4.9,5,5.1], "tickSize": {"condition": {"test": "abs(datum.value-round(datum.value))<0.001", "value": -14}, "value": -7}, "tickColor": "#333", "tickWidth": 1.3, "labelExpr": "abs(datum.value-round(datum.value))<0.001 ? format(datum.value,'d') : ''", "labelFont": "Liberation Sans", "labelFontSize": 21, "labelColor": "black", "labelPadding": 23, "labelOverlap": false, "labelFlush": false, "domain": false, "grid": false, "title": "L\u00a0\u00a0\u00a0\u00a0\u00a0\u00a0\u00a0\u00a0\u00a0[mW cm⁻² µm⁻¹ sr⁻¹]", "titleFont": "Liberation Sans", "titleFontSize": 22, "titleFontWeight": "normal", "titleColor": "black", "titleAngle": -90, "titleAlign": "left", "titleBaseline": "alphabetic", "titleX": -36, "titleY": 325}}
          }
        }
      ]
    }
  ]
}
